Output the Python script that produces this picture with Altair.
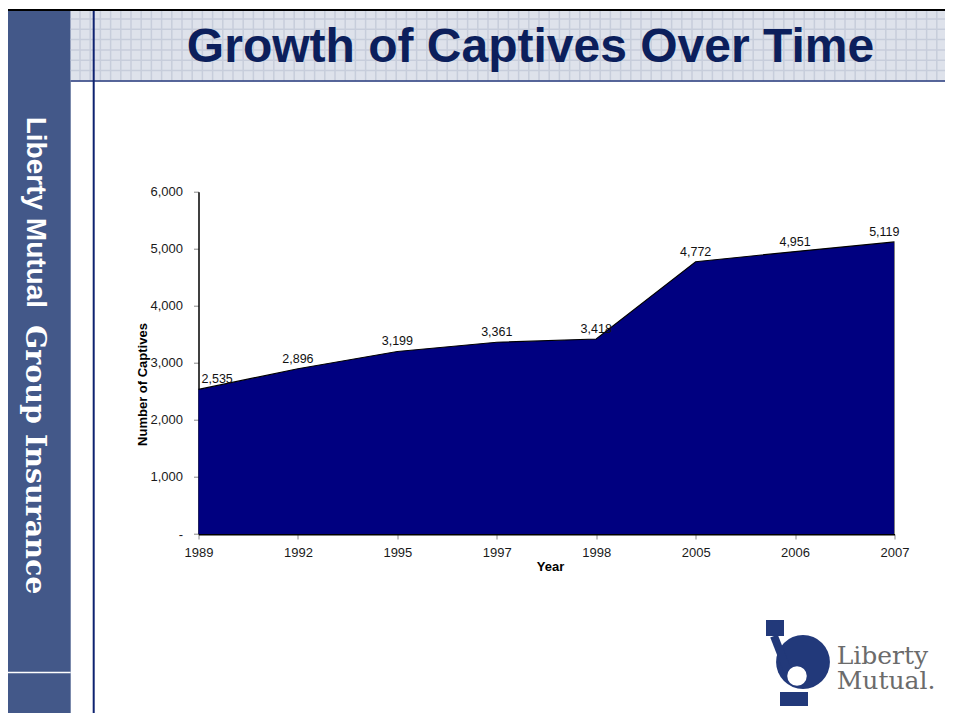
import altair as alt
import pandas as pd
import numpy as np

# ---- data ----
years = ['1989', '1992', '1995', '1997', '1998', '2005', '2006', '2007']
captives = [2535, 2896, 3199, 3361, 3418, 4772, 4951, 5119]
y_ticks = [0, 1000, 2000, 3000, 4000, 5000, 6000]
title_text = 'Growth of Captives Over Time'
side_text_1 = 'Liberty Mutual'
side_text_2 = 'Group Insurance'
x_title = 'Year'
y_title = 'Number of Captives'
logo_text = 'Liberty\nMutual.'

df = pd.DataFrame({'Year': years, 'Captives': captives})

# ---- layout (svg pixels) ----
TW, TH = 937, 705
PL, PT = 190.5, 183.7
W, H = 696, 342.3
PR = TW - PL - W
PB = TH - PT - H


def X(v):
    return v - PL


def Y(v):
    return v - PT


one = pd.DataFrame({'k': [0]})
FONT = 'Liberation Sans'


def rect(x0, x1, y0, y1, color):
    return alt.Chart(one).mark_rect(color=color, strokeWidth=0).encode(
        x=alt.value(X(x0)), x2=alt.value(X(x1)),
        y=alt.value(Y(y0)), y2=alt.value(Y(y1)))


def label(txt, x, y, **kw):
    return alt.Chart(one).mark_text(text=txt, **kw).encode(
        x=alt.value(X(x)), y=alt.value(Y(y)))


def dot(x, y, size, color):
    return alt.Chart(one).mark_point(filled=True, shape='circle', size=size,
                                     color=color, opacity=1).encode(
        x=alt.value(X(x)), y=alt.value(Y(y)))


def seg(x0, y0, x1, y1, color, w):
    return alt.Chart(one).mark_rule(color=color, strokeWidth=w).encode(
        x=alt.value(X(x0)), y=alt.value(Y(y0)),
        x2=alt.value(X(x1)), y2=alt.value(Y(y1)))


# slide decoration
side = rect(0, 62.7, 3, TH, '#435889')
side_line = rect(0, 62.7, 663.8, 665.3, '#ffffff')
banner = rect(62.7, TW, 3, 72.3, '#DEE2EB')

vg = pd.DataFrame({'gx': np.arange(72, TW, 10.2) - PL})
hg = pd.DataFrame({'gy': np.arange(11, 72, 10.3) - PT})
vgrid = alt.Chart(vg).mark_rule(color='#C7CDDB', strokeWidth=1.5).encode(
    x=alt.X('gx:Q', scale=None, axis=None),
    y=alt.value(Y(3)), y2=alt.value(Y(72.3)))
hgrid = alt.Chart(hg).mark_rule(color='#C7CDDB', strokeWidth=1.5).encode(
    y=alt.Y('gy:Q', scale=None, axis=None),
    x=alt.value(X(62.7)), x2=alt.value(X(TW)))

banner_line = rect(62.7, TW, 72.3, 73.8, '#1F3378')
top_line = rect(0, TW, 1, 3, '#000000')
vline = rect(84.7, 86.7, 3, TH, '#0E2270')

title = label(title_text, 522.5, 54, font=FONT, fontSize=48, fontWeight='bold',
              color='#0C1F5C', align='center', baseline='alphabetic')
side1 = label(side_text_1, 27, 108.7, font=FONT, fontSize=28, fontWeight='bold',
              color='#ffffff', align='left', baseline='middle', angle=90)
side2 = label(side_text_2, 27, 317, font='DejaVu Serif', fontSize=28.5, fontWeight='bold',
              color='#ffffff', align='left', baseline='middle', angle=90)

# logo approximation (statue emblem)
emblem = dot(795, 654, 2900, '#22397A')
arm = seg(766, 628, 780, 664, '#22397A', 8)
torch = rect(758, 776, 612, 628, '#22397A')
robe = rect(772, 800, 684, 698, '#22397A')
face = dot(789, 668, 380, '#ffffff')
logo = label(logo_text, 828.7, 656, font='DejaVu Serif', fontSize=25, lineBreak='\n',
             lineHeight=25, color='#6B6B6B', align='left', baseline='alphabetic')

# ---- chart ----
x_enc = alt.X('Year:O', sort=None,
              scale=alt.Scale(type='point', padding=0),
              axis=alt.Axis(title=x_title, labelAngle=0, labelFont=FONT, labelFontSize=13,
                            labelColor='#1a1a1a', labelPadding=7, tickSize=5,
                            tickColor='#8a8a8a', domainColor='#000000', domainWidth=2,
                            titleFont=FONT, titleFontSize=13, titleFontWeight='bold',
                            titleColor='#000000', titleX=351.5, titleY=32.5,
                            titleAlign='center', titleBaseline='middle', grid=False))
y_enc = alt.Y('Captives:Q',
              scale=alt.Scale(domain=[0, 6000], nice=False, zero=True),
              axis=alt.Axis(title=y_title, values=y_ticks,
                            labelExpr="datum.value == 0 ? '-\u00a0\u00a0' : format(datum.value, ',')",
                            labelFont=FONT, labelFontSize=13, labelColor='#1a1a1a',
                            labelPadding=11, tickSize=5, tickColor='#8a8a8a',
                            domainColor='#000000', domainWidth=1.5,
                            titleFont=FONT, titleFontSize=13, titleFontWeight='bold',
                            titleColor='#000000', titleX=-56.2, titleY=192.3,
                            titleAngle=270, titleAlign='center', titleBaseline='middle',
                            grid=False))

base = alt.Chart(df)
area = base.mark_area(color='#000080', opacity=1, interpolate='linear').encode(x=x_enc, y=y_enc)
topline = base.mark_line(color='#000000', strokeWidth=1.2).encode(x=x_enc, y=y_enc)
edge = base.mark_rule(color='#808080', strokeWidth=1).encode(
    x=x_enc, y=y_enc, y2=alt.value(H)).transform_filter(
    alt.FieldOneOfPredicate(field='Year', oneOf=[years[-1]]))

lab_kw = dict(font=FONT, fontSize=12.5, color='#111111', baseline='bottom', dy=-3)
lab_mid = base.mark_text(align='center', **lab_kw).encode(
    x=x_enc, y=y_enc, text=alt.Text('Captives:Q', format=',')).transform_filter(
    alt.FieldOneOfPredicate(field='Year', oneOf=years[1:-1]))
lab_first = base.mark_text(align='left', dx=3, **lab_kw).encode(
    x=x_enc, y=y_enc, text=alt.Text('Captives:Q', format=',')).transform_filter(
    alt.FieldOneOfPredicate(field='Year', oneOf=[years[0]]))
lab_last = base.mark_text(align='right', dx=5, **lab_kw).encode(
    x=x_enc, y=y_enc, text=alt.Text('Captives:Q', format=',')).transform_filter(
    alt.FieldOneOfPredicate(field='Year', oneOf=[years[-1]]))

chart = alt.layer(
    side, side_line, banner, vgrid, hgrid, banner_line, top_line, vline,
    title, side1, side2,
    area, topline, edge, lab_mid, lab_first, lab_last,
    emblem, arm, torch, robe, face, logo,
).properties(
    width=W, height=H,
    padding={'left': PL, 'top': PT, 'right': PR, 'bottom': PB},
    autosize=alt.AutoSizeParams(type='none'),
    background='#ffffff',
).configure_view(stroke=None)

chart.save('out.html', embed_options={'renderer': 'svg', 'actions': False})
